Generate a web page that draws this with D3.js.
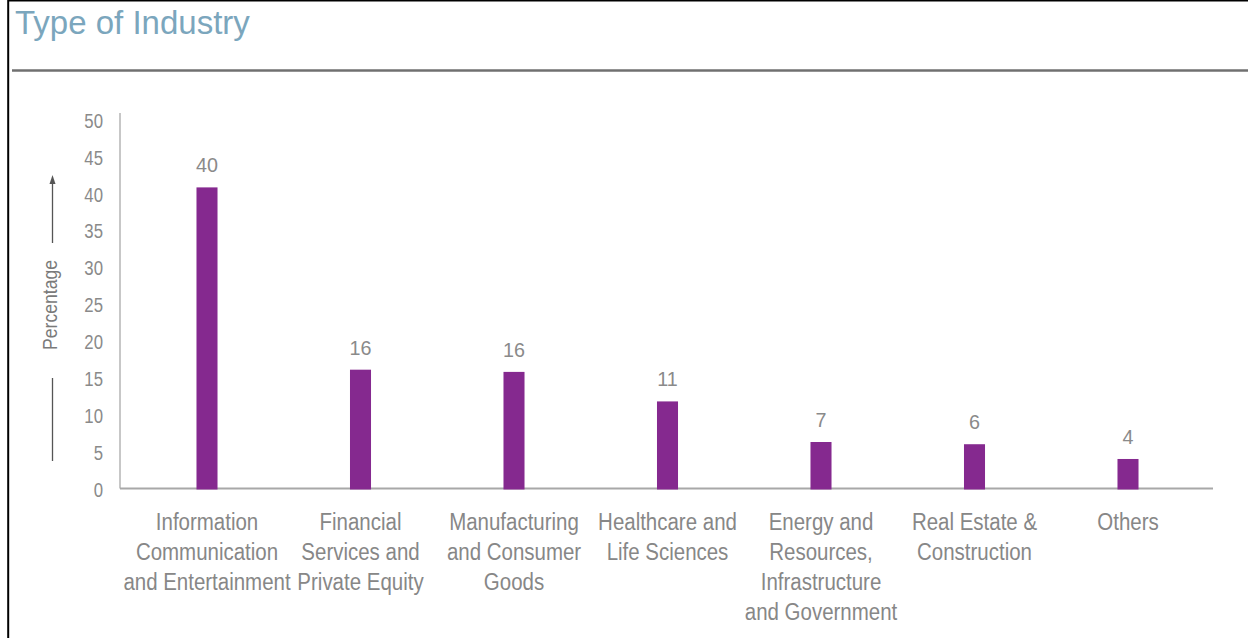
<!DOCTYPE html>
<html>
<head>
<meta charset="utf-8">
<script src="https://cdn.jsdelivr.net/npm/d3@7"></script>
<style>
  html, body { margin: 0; padding: 0; background: #fff; }
  svg { display: block; }
</style>
</head>
<body>
<div id="container"></div>
<script>
// no narrow font installed, so text is squeezed horizontally instead
const FONT = '"Liberation Sans", Arial, sans-serif';

// data
const categories = [
  ['Information', 'Communication', 'and Entertainment'],
  ['Financial', 'Services and', 'Private Equity'],
  ['Manufacturing', 'and Consumer', 'Goods'],
  ['Healthcare and', 'Life Sciences'],
  ['Energy and', 'Resources,', 'Infrastructure', 'and Government'],
  ['Real Estate &', 'Construction'],
  ['Others']
];
const values = [40.8, 16.1, 15.8, 11.8, 6.3, 6.0, 4.0];
const valueLabels = ['40', '16', '16', '11', '7', '6', '4'];
const yTicks = [0, 5, 10, 15, 20, 25, 30, 35, 40, 45, 50];

const W = 1248, H = 638;

const svg = d3.select('#container')
  .append('svg')
  .attr('width', W)
  .attr('height', H);

// frame lines
svg.append('line')
  .attr('x1', 8).attr('y1', 0.75).attr('x2', W).attr('y2', 0.75)
  .style('stroke', '#000').style('stroke-width', 1.5);
svg.append('line')
  .attr('x1', 8.2).attr('y1', 0).attr('x2', 8.2).attr('y2', H)
  .style('stroke', '#000').style('stroke-width', 2);

// title
svg.append('text')
  .attr('x', 15)
  .attr('y', 34)
  .style('font-family', FONT)
  .style('font-size', '33px')
  .style('fill', '#7ba6bd')
  .text('Type of Industry');

svg.append('line')
  .attr('x1', 12).attr('y1', 70.5).attr('x2', W).attr('y2', 70.5)
  .style('stroke', '#707070').style('stroke-width', 2.5);

const categoryNames = categories.map(c => c.join(' '));

const x = d3.scaleBand()
  .domain(categoryNames)
  .range([130.25, 1204.75])
  .paddingInner(0.863)
  .paddingOuter(0.4315);

const y = d3.scaleLinear()
  .domain([0, 50])
  .range([488.5, 119.5]);

// axis lines
svg.append('line')
  .attr('x1', 120).attr('y1', 113).attr('x2', 120).attr('y2', y(0))
  .style('stroke', '#b5b5b5').style('stroke-width', 1.5);
svg.append('line')
  .attr('x1', 120).attr('y1', y(0)).attr('x2', 1213).attr('y2', y(0))
  .style('stroke', '#a8a8a8').style('stroke-width', 2);

// y tick labels
const TICK_SQUEEZE = 0.86;
const yAxis = svg.append('g')
  .attr('transform', 'translate(120,1.5)')
  .call(d3.axisLeft(y).tickValues(yTicks).tickSize(0).tickPadding(17));
yAxis.select('.domain').remove();
yAxis.selectAll('text')
  .attr('x', -17 / TICK_SQUEEZE)
  .attr('transform', `scale(${TICK_SQUEEZE},1)`)
  .style('font-family', FONT)
  .style('font-size', '19.5px')
  .style('fill', '#8a8a8a');

// y axis title with arrow
svg.append('text')
  .attr('transform', 'translate(57,305) rotate(-90) scale(0.88,1)')
  .attr('text-anchor', 'middle')
  .style('font-family', FONT)
  .style('font-size', '20px')
  .style('fill', '#7a7a7a')
  .text('Percentage');

svg.append('line')
  .attr('x1', 52.5).attr('y1', 183).attr('x2', 52.5).attr('y2', 243)
  .style('stroke', '#555').style('stroke-width', 1.3);
svg.append('path')
  .attr('d', 'M52.5,175 L49.5,184 L55.5,184 Z')
  .style('fill', '#555');
svg.append('line')
  .attr('x1', 52.5).attr('y1', 378).attr('x2', 52.5).attr('y2', 461)
  .style('stroke', '#555').style('stroke-width', 1.3);

// bars
svg.append('g')
  .selectAll('rect')
  .data(values)
  .join('rect')
  .attr('x', (d, i) => x(categoryNames[i]))
  .attr('y', d => y(d))
  .attr('width', x.bandwidth())
  .attr('height', d => y(0) + 1 - y(d))
  .style('fill', '#85298f');

const cx = i => x(categoryNames[i]) + x.bandwidth() / 2;

// value labels
svg.append('g')
  .selectAll('text')
  .data(values)
  .join('text')
  .attr('transform', (d, i) => `translate(${cx(i)},${y(d) - 15}) scale(0.94,1)`)
  .attr('text-anchor', 'middle')
  .style('font-family', FONT)
  .style('font-size', '21px')
  .style('fill', '#8a8a8a')
  .text((d, i) => valueLabels[i]);

// category labels
svg.append('g')
  .selectAll('text')
  .data(categories)
  .join('text')
  .attr('transform', (d, i) => `translate(${cx(i)},530) scale(0.89,1)`)
  .attr('text-anchor', 'middle')
  .style('font-family', FONT)
  .style('font-size', '23px')
  .style('fill', '#878787')
  .each(function(lines) {
    const t = d3.select(this);
    lines.forEach((line, j) => {
      t.append('tspan')
        .attr('x', 0)
        .attr('dy', j === 0 ? 0 : 30)
        .text(line);
    });
  });
</script>
</body>
</html>
